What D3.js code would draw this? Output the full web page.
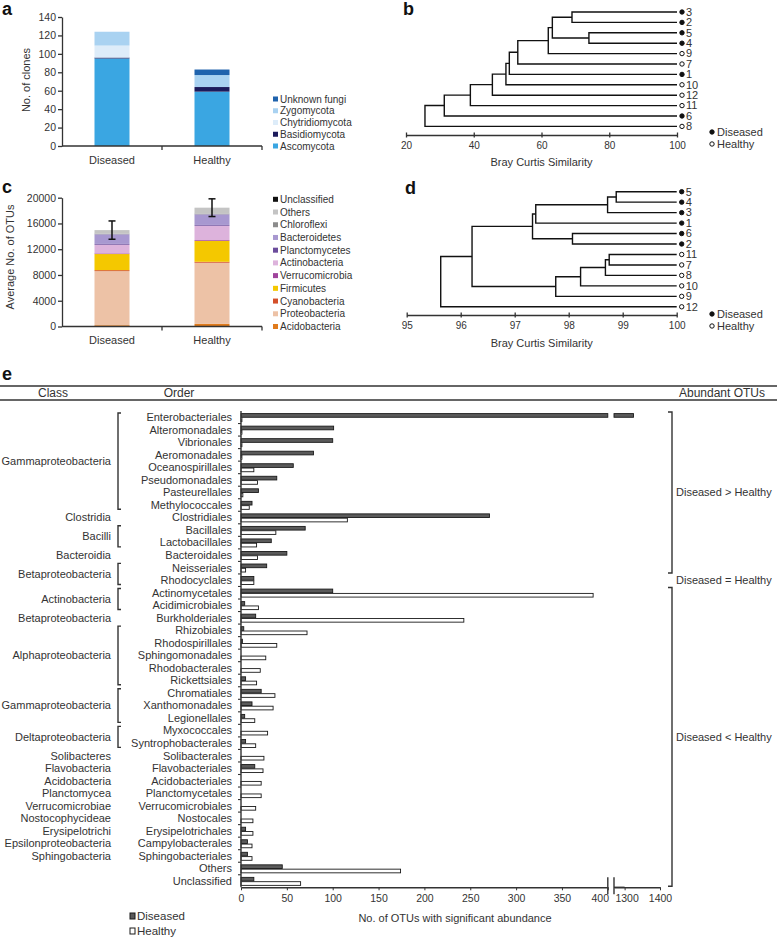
<!DOCTYPE html>
<html>
<head>
<meta charset="utf-8">
<script src="https://cdnjs.cloudflare.com/ajax/libs/d3/7.8.5/d3.min.js"></script>
<style>
  body { margin: 0; background: #fff; }
  svg text { font-family: 'Liberation Sans', Arial, sans-serif; fill: #333; }
  .domain, .tick line { stroke: #333; }
</style>
</head>
<body>
<div id="fig"></div>
<script>
// ---- panel a: fungal clones
const groups = ['Diseased', 'Healthy']
const fungiTaxa = ['Ascomycota', 'Basidiomycota', 'Chytridiomycota', 'Zygomycota', 'Unknown fungi']
const fungiColors = ['#3aa6e2', '#1c1b5c', '#ddecf9', '#a9d2f1', '#1f63ad']
const fungiDiseased = [95, 1, 13, 15, 0]
const fungiHealthy = [59, 5, 0, 13, 6]
const cloneTicks = [0, 20, 40, 60, 80, 100, 120, 140]

// ---- panel c: bacterial OTUs
const phyla = ['Acidobacteria', 'Proteobacteria', 'Cyanobacteria', 'Firmicutes', 'Verrucomicrobia',
  'Actinobacteria', 'Planctomycetes', 'Bacteroidetes', 'Chloroflexi', 'Others', 'Unclassified']
const phylaColors = ['#e07b1c', '#edc2a6', '#d4502a', '#f4c800', '#a0449c',
  '#ddb3dc', '#6b4c9c', '#a898d0', '#8c8c8c', '#c4c4c4', '#111111']
const otuDiseased = [200, 8400, 150, 2500, 100, 1350, 120, 1500, 100, 550, 0]
const otuHealthy = [400, 9500, 150, 3250, 120, 2230, 120, 1650, 120, 910, 0]
const otuError = [1420, 1375]
const otuTicks = [0, 4000, 8000, 12000, 16000, 20000]

// ---- panels b, d: dendrograms [left, right, similarity]
const diseasedSamples = ['1', '2', '3', '4', '5', '6']
const fungiTree = [[[[[[[[[['3', '2', 69], ['5', '4', 74], 63.2], '9', 62], '7', 53], '1', 50.5], '10', 49.5], '12', 45.5], '11', 39], '6', 31.3], '8', 25.6]
const bactTree = [[[[[['5', '4', 98.88], '3', 98.72], '1', 97.39], ['6', '2', 98.07], 97.33],
  [[[['11', '7', 98.75], '8', 98.68], '10', 98.22], '9', 97.76], 96.21], '12', 95.63]
const fungiSimTicks = [20, 40, 60, 80, 100]
const bactSimTicks = [95, 96, 97, 98, 99, 100]

// ---- panel e: abundant OTUs per order
const orders = ['Enterobacteriales', 'Alteromonadales', 'Vibrionales', 'Aeromonadales', 'Oceanospirillales',
  'Pseudomonadales', 'Pasteurellales', 'Methylococcales', 'Clostridiales', 'Bacillales', 'Lactobacillales',
  'Bacteroidales', 'Neisseriales', 'Rhodocyclales', 'Actinomycetales', 'Acidimicrobiales', 'Burkholderiales',
  'Rhizobiales', 'Rhodospirillales', 'Sphingomonadales', 'Rhodobacterales', 'Rickettsiales', 'Chromatiales',
  'Xanthomonadales', 'Legionellales', 'Myxococcales', 'Syntrophobacterales', 'Solibacterales',
  'Flavobacteriales', 'Acidobacteriales', 'Planctomycetales', 'Verrucomicrobiales', 'Nostocales',
  'Erysipelotrichales', 'Campylobacterales', 'Sphingobacteriales', 'Others', 'Unclassified']
const abundDiseased = [1325, 101, 100, 79, 57, 39, 19, 12, 271, 70, 33, 50, 28, 14, 100, 4, 16,
  3, 1.5, 0, 0, 5, 22, 12, 4, 0, 5, 0, 15, 0, 0, 0, 0, 5, 7, 7, 45, 14]
const abundHealthy = [1, 1, 1, 1, 14, 18, 2, 9, 116, 38, 17, 18, 5, 14, 384, 19, 243,
  72, 39, 27, 21, 17, 37, 35, 15, 29, 16, 25, 24, 22, 22, 16, 13, 13, 12, 12, 174, 65]
const classGroups = [
  ['Gammaproteobacteria', 'Enterobacteriales', 'Methylococcales'],
  ['Clostridia', 'Clostridiales', 'Clostridiales'],
  ['Bacilli', 'Bacillales', 'Lactobacillales'],
  ['Bacteroidia', 'Bacteroidales', 'Bacteroidales'],
  ['Betaproteobacteria', 'Neisseriales', 'Rhodocyclales'],
  ['Actinobacteria', 'Actinomycetales', 'Acidimicrobiales'],
  ['Betaproteobacteria', 'Burkholderiales', 'Burkholderiales'],
  ['Alphaproteobacteria', 'Rhizobiales', 'Rickettsiales'],
  ['Gammaproteobacteria', 'Chromatiales', 'Legionellales'],
  ['Deltaproteobacteria', 'Myxococcales', 'Syntrophobacterales'],
  ['Solibacteres', 'Solibacterales', 'Solibacterales'],
  ['Flavobacteria', 'Flavobacteriales', 'Flavobacteriales'],
  ['Acidobacteria', 'Acidobacteriales', 'Acidobacteriales'],
  ['Planctomycea', 'Planctomycetales', 'Planctomycetales'],
  ['Verrucomicrobiae', 'Verrucomicrobiales', 'Verrucomicrobiales'],
  ['Nostocophycideae', 'Nostocales', 'Nostocales'],
  ['Erysipelotrichi', 'Erysipelotrichales', 'Erysipelotrichales'],
  ['Epsilonproteobacteria', 'Campylobacterales', 'Campylobacterales'],
  ['Sphingobacteria', 'Sphingobacteriales', 'Sphingobacteriales']
]
const abundGroups = [
  ['Diseased > Healthy', 'Enterobacteriales', 'Neisseriales'],
  ['Diseased = Healthy', 'Rhodocyclales', 'Rhodocyclales'],
  ['Diseased < Healthy', 'Actinomycetales', 'Unclassified']
]
const abundTicksLow = [0, 50, 100, 150, 200, 250, 300, 350, 400]
const abundTicksHigh = [1300, 1400]

const fmt = d3.format('d')
const svg = d3.select('#fig').append('svg').attr('width', 777).attr('height', 938)

// Panel letters
;[['a', 2, 15], ['b', 403, 15], ['c', 2, 193], ['d', 405, 194], ['e', 2, 380]].forEach(([t, x, y]) => {
  svg.append('text').attr('x', x).attr('y', y).attr('font-size', 18).attr('font-weight', 'bold')
    .style('fill', '#111').text(t)
})

/**
 * Stacked bars with y axis, categories and legend (panels a and c)
 */
function stackedPanel (taxa, colors, values, yScale, ticks, yLabel, labelX, labelY, catY, legendTop) {
  const xBand = d3.scaleBand().domain(groups).range([62, 262])
  const barW = 35
  const rows = groups.map((g, gi) => Object.fromEntries(taxa.map((t, i) => [t, values[gi][i]])))
  const series = d3.stack().keys(taxa)(rows)
  const g = svg.append('g')
  series.forEach((s, si) => {
    g.append('g').selectAll('rect')
      .data(s)
      .enter().append('rect')
      .attr('x', (d, i) => xBand(groups[i]) + (xBand.bandwidth() - barW) / 2)
      .attr('width', barW)
      .attr('y', d => yScale(d[1]))
      .attr('height', d => yScale(d[0]) - yScale(d[1]))
      .attr('fill', colors[si])
  })
  // y axis
  const ay = g.append('g').attr('transform', 'translate(62,0)')
    .call(d3.axisLeft(yScale).tickValues(ticks).tickFormat(fmt).tickSize(4).tickSizeOuter(0).tickPadding(2))
  ay.selectAll('text').attr('font-size', 10.5)
  ay.selectAll('path, line').attr('stroke-width', 1.3)
  // x axis
  const y0 = yScale.range()[0]
  g.append('line').attr('x1', 62).attr('x2', 262).attr('y1', y0).attr('y2', y0)
    .attr('stroke', '#333').attr('stroke-width', 1.5)
  ;[162, 262].forEach(x => {
    g.append('line').attr('x1', x).attr('x2', x).attr('y1', y0).attr('y2', y0 + 4)
      .attr('stroke', '#333').attr('stroke-width', 1.3)
  })
  groups.forEach(gr => {
    g.append('text').attr('x', xBand(gr) + xBand.bandwidth() / 2).attr('y', catY)
      .attr('text-anchor', 'middle').attr('font-size', 11).text(gr)
  })
  g.append('text').attr('transform', `translate(${labelX},${labelY}) rotate(-90)`)
    .attr('text-anchor', 'middle').attr('font-size', 11).text(yLabel)
  // legend, top-down reversed
  const legStep = (y0 - legendTop) / (taxa.length - 1)
  taxa.slice().reverse().forEach((t, i) => {
    const ci = taxa.length - 1 - i
    const ly = legendTop + i * legStep
    g.append('rect').attr('x', 273).attr('y', ly - 2.5).attr('width', 5).attr('height', 5).attr('fill', colors[ci])
    g.append('text').attr('x', 280).attr('y', ly).attr('dy', '0.35em').attr('font-size', 10).text(t)
  })
  return { g, xBand }
}

const yClones = d3.scaleLinear().domain([0, 140]).range([146, 17])
stackedPanel(fungiTaxa, fungiColors, [fungiDiseased, fungiHealthy], yClones, cloneTicks,
  'No. of clones', 30, 80, 164, 99)

const yOtus = d3.scaleLinear().domain([0, 20000]).range([326.5, 197.7])
const panelC = stackedPanel(phyla, phylaColors, [otuDiseased, otuHealthy], yOtus, otuTicks,
  'Average No. of OTUs', 14, 257, 344, 199.3)
// error bars
groups.forEach((gr, gi) => {
  const total = d3.sum(gi === 0 ? otuDiseased : otuHealthy)
  const cx = panelC.xBand(gr) + panelC.xBand.bandwidth() / 2
  const top = yOtus(total + otuError[gi])
  const bot = yOtus(total - otuError[gi])
  const eg = panelC.g.append('g').attr('stroke', '#111').attr('stroke-width', 1.5)
  eg.append('line').attr('x1', cx).attr('x2', cx).attr('y1', top).attr('y2', bot)
  eg.append('line').attr('x1', cx - 3.5).attr('x2', cx + 3.5).attr('y1', top).attr('y2', top)
  eg.append('line').attr('x1', cx - 3.5).attr('x2', cx + 3.5).attr('y1', bot).attr('y2', bot)
})

/**
 * Draws a dendrogram from nested [left, right, similarity] arrays
 */
function leavesOf (n) {
  return typeof n === 'string' ? [n] : leavesOf(n[0]).concat(leavesOf(n[1]))
}
function drawDendro (tree, ticks, xRange, yRange, axisY, titleY, legendY) {
  const x = d3.scaleLinear().domain([ticks[0], 100]).range(xRange)
  const y = d3.scalePoint().domain(leavesOf(tree)).range(yRange)
  const g = svg.append('g')
  function walk (n) {
    if (typeof n === 'string') return { x: x(100), y: y(n) }
    const a = walk(n[0])
    const b = walk(n[1])
    const h = x(n[2])
    g.append('path').attr('d', `M${a.x},${a.y}H${h}V${b.y}H${b.x}`)
      .attr('fill', 'none').attr('stroke', '#111').attr('stroke-width', 1.4)
    return { x: h, y: (a.y + b.y) / 2 }
  }
  walk(tree)
  // leaves
  y.domain().forEach(name => {
    const isD = diseasedSamples.includes(name)
    g.append('circle').attr('cx', xRange[1] + 5).attr('cy', y(name)).attr('r', 2.2)
      .attr('fill', isD ? '#111' : '#fff').attr('stroke', '#111').attr('stroke-width', 1)
    g.append('text').attr('x', xRange[1] + 9).attr('y', y(name)).attr('dy', '0.35em')
      .attr('font-size', 11).text(name)
  })
  // axis
  const ax = g.append('g').attr('transform', `translate(0,${axisY})`)
    .call(d3.axisBottom(x).tickValues(ticks).tickFormat(fmt).tickSize(0).tickSizeOuter(0).tickPadding(7))
  ax.select('.domain').attr('stroke-width', 1.6)
  ax.selectAll('.tick').append('line').attr('y1', -2.5).attr('y2', 2.5).attr('stroke', '#333').attr('stroke-width', 1.3)
  ax.selectAll('text').attr('font-size', 10)
  g.append('text').attr('x', (xRange[0] + xRange[1]) / 2).attr('y', titleY)
    .attr('text-anchor', 'middle').attr('font-size', 11).text('Bray Curtis Similarity')
  // legend
  ;[['Diseased', '#111'], ['Healthy', '#fff']].forEach(([t, f], i) => {
    const ly = legendY + i * 12
    g.append('circle').attr('cx', 712).attr('cy', ly).attr('r', 2.2).attr('fill', f)
      .attr('stroke', '#111').attr('stroke-width', 1)
    g.append('text').attr('x', 717).attr('y', ly).attr('dy', '0.35em').attr('font-size', 11).text(t)
  })
}

drawDendro(fungiTree, fungiSimTicks, [406, 677], [12, 126.4], 135, 166, 132)
drawDendro(bactTree, bactSimTicks, [406.7, 676.7], [191.7, 306.8], 315, 347, 314)

// ---- panel e
const ge = svg.append('g')
;[386, 400].forEach(ly => {
  ge.append('line').attr('x1', 0).attr('x2', 777).attr('y1', ly).attr('y2', ly)
    .attr('stroke', '#333').attr('stroke-width', 1.3)
})
;[['Class', 53], ['Order', 179], ['Abundant OTUs', 722]].forEach(([t, x]) => {
  ge.append('text').attr('x', x).attr('y', 393).attr('dy', '0.35em').attr('text-anchor', 'middle')
    .attr('font-size', 12).text(t)
})

const yRow = d3.scaleBand().domain(orders).range([411, 887.3])
const ySub = d3.scaleBand().domain(['Diseased', 'Healthy']).range([2.6, 10.6]).paddingInner(0.15)
const xLow = d3.scaleLinear().domain([0, 400]).range([241, 607.8])
const xHigh = d3.scaleLinear().domain([1270, 1400]).range([614, 660])
const axisBottomY = yRow.range()[1]

// order labels
orders.forEach(o => {
  ge.append('text').attr('x', 232).attr('y', yRow(o) + yRow.bandwidth() / 2).attr('dy', '0.35em')
    .attr('text-anchor', 'end').attr('font-size', 11).text(o)
})
// class labels and brackets
classGroups.forEach(([cls, first, last]) => {
  const top = yRow(first)
  const bot = yRow(last) + yRow.bandwidth()
  ge.append('text').attr('x', 111).attr('y', (top + bot) / 2).attr('dy', '0.35em')
    .attr('text-anchor', 'end').attr('font-size', 11).text(cls)
  if (first !== last) {
    ge.append('path').attr('d', `M121,${top + 2}H118V${bot - 2}H121`)
      .attr('fill', 'none').attr('stroke', '#333').attr('stroke-width', 1.4)
  }
})
// abundance groups on the right
abundGroups.forEach(([lab, first, last]) => {
  const top = yRow(first) + 1
  const bot = yRow(last) + yRow.bandwidth() - 1
  if (first !== last) {
    ge.append('path').attr('d', `M668,${top}H672V${bot}H668`)
      .attr('fill', 'none').attr('stroke', '#333').attr('stroke-width', 1.4)
  }
  ge.append('text').attr('x', 676).attr('y', (top + bot) / 2).attr('dy', '0.35em')
    .attr('font-size', 11).text(lab)
})

// bars
function barPieces (v) {
  if (v <= 400) return [[xLow(0), xLow(v)]]
  return [[xLow(0), xLow(400)], [xHigh.range()[0], xHigh(v)]]
}
const barStyle = { Diseased: '#5a5a5a', Healthy: '#ffffff' }
orders.forEach((o, i) => {
  [['Diseased', abundDiseased[i]], ['Healthy', abundHealthy[i]]].forEach(([k, v]) => {
    if (v <= 0) return
    barPieces(v).forEach(([x0, x1]) => {
      ge.append('rect').attr('x', x0).attr('width', x1 - x0)
        .attr('y', yRow(o) + ySub(k)).attr('height', ySub.bandwidth())
        .attr('fill', barStyle[k]).attr('stroke', '#1a1a1a').attr('stroke-width', 0.9)
    })
  })
})

// y axis with ticks on row boundaries
ge.append('line').attr('x1', 241).attr('x2', 241).attr('y1', yRow.range()[0]).attr('y2', axisBottomY)
  .attr('stroke', '#333').attr('stroke-width', 1.4)
orders.slice(1).forEach(o => {
  ge.append('line').attr('x1', 238).attr('x2', 241).attr('y1', yRow(o)).attr('y2', yRow(o))
    .attr('stroke', '#333').attr('stroke-width', 1.1)
})

// broken x axis
const axLow = ge.append('g').attr('transform', `translate(0,${axisBottomY})`)
  .call(d3.axisBottom(xLow).tickValues(abundTicksLow).tickFormat(fmt).tickSize(3).tickSizeOuter(0).tickPadding(4))
const axHigh = ge.append('g').attr('transform', `translate(0,${axisBottomY})`)
  .call(d3.axisBottom(xHigh).tickValues(abundTicksHigh).tickFormat(fmt).tickSize(3).tickSizeOuter(0).tickPadding(4))
;[axLow, axHigh].forEach(a => {
  a.selectAll('text').attr('font-size', 10.5)
  a.select('.domain').attr('stroke-width', 1.4)
})
axLow.selectAll('.tick').filter(d => d === 400).select('text').attr('dx', -8)
axHigh.selectAll('.tick').filter(d => d === 1300).select('text').attr('dx', 2)
ge.append('line').attr('x1', xHigh.range()[0]).attr('x2', xHigh(1300)).attr('y1', axisBottomY).attr('y2', axisBottomY)
  .attr('stroke', '#333').attr('stroke-width', 1.4)
;[xLow(400), xHigh.range()[0]].forEach(x => {
  ge.append('line').attr('x1', x).attr('x2', x).attr('y1', axisBottomY - 10).attr('y2', axisBottomY + 7)
    .attr('stroke', '#333').attr('stroke-width', 1.4)
})
ge.append('text').attr('x', 455).attr('y', 918).attr('dy', '0.35em').attr('text-anchor', 'middle')
  .attr('font-size', 11).text('No. of OTUs with significant abundance')

// legend
;[['Diseased', barStyle.Diseased], ['Healthy', barStyle.Healthy]].forEach(([t, f], i) => {
  const ly = 916 + i * 15
  ge.append('rect').attr('x', 130).attr('y', ly - 3).attr('width', 5).attr('height', 6)
    .attr('fill', f).attr('stroke', '#1a1a1a').attr('stroke-width', 1)
  ge.append('text').attr('x', 137).attr('y', ly).attr('dy', '0.35em').attr('font-size', 11.5).text(t)
})
</script>
</body>
</html>
